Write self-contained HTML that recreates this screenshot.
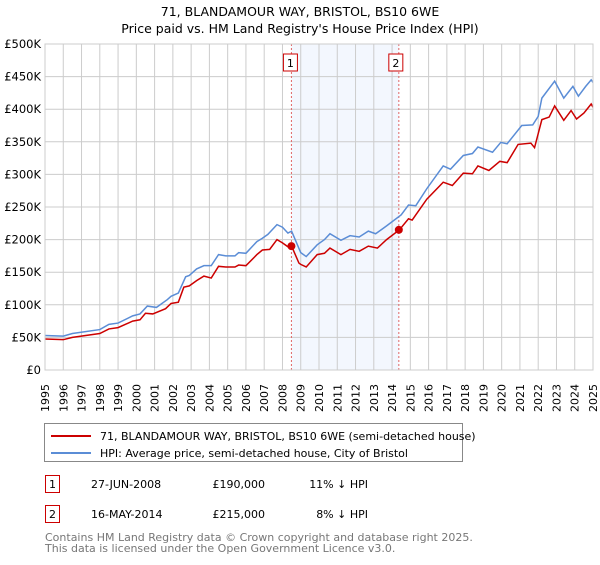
<!DOCTYPE html>
<html><head><meta charset="utf-8"><style>
body{margin:0;background:#fff;font-family:"Liberation Sans","DejaVu Sans",sans-serif}
svg text{font-family:"DejaVu Sans","Liberation Sans",sans-serif}
</style></head><body>
<svg id="chart" width="600" height="560" viewBox="0 0 600 560" xmlns="http://www.w3.org/2000/svg">
<text x="300" y="16" text-anchor="middle" font-size="12.5">71, BLANDAMOUR WAY, BRISTOL, BS10 6WE</text>
<text x="300" y="33" text-anchor="middle" font-size="12.5">Price paid vs. HM Land Registry's House Price Index (HPI)</text>
<g id="plot"></g>
<rect x="44.5" y="423.5" width="418" height="38" fill="#fff" stroke="#888"/>
<line x1="51" y1="436" x2="91" y2="436" stroke="#cc0000" stroke-width="2"/>
<text x="100" y="440" font-size="11">71, BLANDAMOUR WAY, BRISTOL, BS10 6WE (semi-detached house)</text>
<line x1="51" y1="453" x2="91" y2="453" stroke="#5b8dd6" stroke-width="2"/>
<text x="100" y="457" font-size="11">HPI: Average price, semi-detached house, City of Bristol</text>
<rect x="45.5" y="475.5" width="14" height="17" fill="#fff" stroke="#cc0000"/>
<text x="52.5" y="488" text-anchor="middle" font-size="11">1</text>
<text x="91" y="488" font-size="11">27-JUN-2008</text>
<text x="265" y="488" text-anchor="end" font-size="11">£190,000</text>
<text x="368" y="488" text-anchor="end" font-size="11">11% ↓ HPI</text>
<rect x="45.5" y="505.5" width="14" height="17" fill="#fff" stroke="#cc0000"/>
<text x="52.5" y="518" text-anchor="middle" font-size="11">2</text>
<text x="91" y="518" font-size="11">16-MAY-2014</text>
<text x="265" y="518" text-anchor="end" font-size="11">£215,000</text>
<text x="368" y="518" text-anchor="end" font-size="11">8% ↓ HPI</text>
<text x="45" y="541" font-size="11" fill="#777">Contains HM Land Registry data © Crown copyright and database right 2025.</text>
<text x="45" y="552" font-size="11" fill="#777">This data is licensed under the Open Government Licence v3.0.</text>
</svg>
<script>
const hpiYears=[1995,1996,1996.5,1998,1998.5,1999,1999.8,2000.2,2000.6,2001.1,2001.7,2001.9,2002.3,2002.7,2002.9,2003.3,2003.7,2004.1,2004.5,2004.9,2005.4,2005.6,2006,2006.6,2006.9,2007.2,2007.7,2008,2008.3,2008.5,2009,2009.3,2009.9,2010.3,2010.6,2011.2,2011.7,2012.2,2012.7,2013.1,2013.7,2014.5,2014.9,2015.3,2015.9,2016.8,2017.2,2017.9,2018.4,2018.7,2019.5,2019.95,2020.3,2021.1,2021.7,2022,2022.2,2022.9,2023.4,2023.9,2024.2,2024.6,2024.9,2025];
const hpiValues=[53,52,56,62,70,72,83,86,98,96,108,113,118,143,145,155,160,160,177,175,175,180,179,197,202,208,223,219,210,213,180,174,192,200,209,199,206,204,213,209,221,238,253,252,278,313,308,329,332,342,334,349,347,375,376,389,417,443,417,435,420,435,445,441];
const ppYears=[1995,1996,1996.5,1998,1998.5,1999,1999.8,2000.2,2000.5,2000.9,2001.6,2001.9,2002.3,2002.6,2002.9,2003.3,2003.7,2004.1,2004.5,2004.9,2005.4,2005.6,2006,2006.6,2006.9,2007.3,2007.7,2008,2008.3,2008.5,2008.9,2009,2009.3,2009.9,2010.3,2010.6,2011.2,2011.7,2012.2,2012.7,2013.2,2013.7,2014.4,2014.9,2015.1,2015.9,2016.8,2017.3,2017.9,2018.4,2018.7,2019.3,2019.9,2020.3,2020.9,2021.6,2021.8,2022.2,2022.6,2022.9,2023.4,2023.8,2024.1,2024.5,2024.9,2025];
const ppValues=[47.5,46.5,50,56,63,65,75,77,87,86,94,102,104,127,129,137,144,141,159,158,158,161,160,177,184,185,200,195,189,190,164,162,158,177,179,187,177,185,182,190,187,200,215,232,230,262,288,283,302,301,313,306,320,318,346,348,341,384,388,405,383,398,385,394,408,403];
const saleYears=[2008.49,2014.37];
const saleValues=[190,215];
const yTicks=[0,50,100,150,200,250,300,350,400,450,500];
const yTickLabels=["£0","£50K","£100K","£150K","£200K","£250K","£300K","£350K","£400K","£450K","£500K"];
const xTicks=[1995,1996,1997,1998,1999,2000,2001,2002,2003,2004,2005,2006,2007,2008,2009,2010,2011,2012,2013,2014,2015,2016,2017,2018,2019,2020,2021,2022,2023,2024,2025];

const L=45,R=593,T=44,B=370;
const X=y=>L+(y-1995)/30*(R-L);
const Y=v=>B-v/500*(B-T);
const NS="http://www.w3.org/2000/svg";
const g=document.getElementById('plot');
function mk(tag,attrs,parent){const e=document.createElementNS(NS,tag);for(const k in attrs)e.setAttribute(k,attrs[k]);(parent||g).appendChild(e);return e;}
const shade=mk('rect',{x:X(saleYears[0]),y:T,width:X(saleYears[1])-X(saleYears[0]),height:B-T,fill:'#eef3fd',opacity:0.7});


xTicks.forEach(t=>{
 const l=mk('line',{x1:X(t),x2:X(t),y1:T,y2:B,stroke:'#cccccc'});
 
 
 const tx=mk('text',{transform:`translate(${X(t)+4},${B+42}) rotate(-90)`,'font-size':11});
 tx.textContent=t;
 
 
});
yTicks.forEach((t,i)=>{
 const l=mk('line',{x1:L,x2:R,y1:Y(t),y2:Y(t),stroke:'#cccccc'});
 
 
 const tx=mk('text',{x:L-4,y:Y(t)+4,'text-anchor':'end','font-size':11.5});
 tx.textContent=yTickLabels[i];
 
 
});
saleYears.forEach((s,i)=>{
 const l=mk('line',{x1:X(s),x2:X(s),y1:T,y2:B,stroke:'#e06666','stroke-dasharray':'2,2'});
 
 
 const bx=X(s)-8-(i==1?2:0);
 const r=mk('rect',{x:bx,y:T+10,width:14,height:17,fill:'#fff',stroke:'#cc0000'});
 
 
 const tx=mk('text',{x:bx+7,y:T+23,'text-anchor':'middle','font-size':11});
 tx.textContent=i+1;
 
 
});
const hp=mk('polyline',{points:hpiYears.map((y,i)=>X(y)+','+Y(hpiValues[i])).join(' '),fill:'none',stroke:'#5b8dd6','stroke-width':1.5});


const pp=mk('polyline',{points:ppYears.map((y,i)=>X(y)+','+Y(ppValues[i])).join(' '),fill:'none',stroke:'#cc0000','stroke-width':1.5});


saleYears.forEach((s,i)=>{
 const c=mk('circle',{cx:X(s),cy:Y(saleValues[i]),r:4,fill:'#cc0000'});
 
 
});
const ax=mk('rect',{x:L,y:T,width:R-L,height:B-T,fill:'none',stroke:'#cccccc'});


</script>
</body></html>
